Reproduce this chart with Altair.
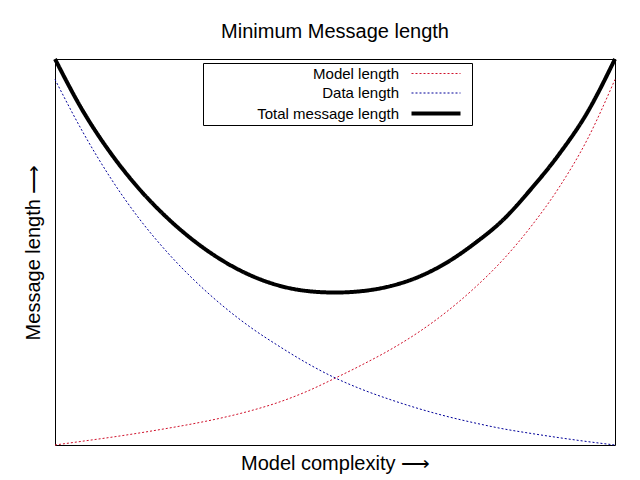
import altair as alt
import pandas as pd

# Values (x: model complexity 0-100, y: message length 0-100)
x_vals = [0, 5, 10, 15, 20, 25, 30, 35, 40, 45, 50, 55, 60, 65, 70, 75, 80, 85, 90, 95, 100]
model_len = [0, 1.0, 2.0, 3.1, 4.3, 5.6, 7.1, 8.9, 11.1, 13.9, 17.3, 20.9, 24.8, 29.3, 34.6,
             40.8, 48.0, 56.6, 66.7, 79.0, 94.7]
data_len = [94.7, 81.0, 69.0, 58.7, 50.0, 42.5, 36.0, 30.4, 25.6, 21.2, 17.4, 14.3, 11.7, 9.4,
            7.4, 5.7, 4.2, 3.0, 1.9, 0.9, 0]
total_len = [100, 86.5, 75.5, 66.4, 58.9, 52.7, 47.7, 43.9, 41.3, 39.9, 39.5, 39.9, 41.2, 43.6,
             47.3, 52.3, 58.3, 66.3, 75.3, 86.0, 100]

series_names = ["Model length", "Data length", "Total message length"]
series_colors = ["#d0102a", "#000099", "#000000"]
series_dash = [[2, 2], [2, 2], [1, 0]]
series_width = [1, 1, 4]

rows = []
for name, vals in zip(series_names, [model_len, data_len, total_len]):
    for xv, yv in zip(x_vals, vals):
        rows.append({"complexity": xv, "length": yv, "series": name})
df = pd.DataFrame(rows)

FONT = "Liberation Sans"

legend = alt.Legend(
    title=None,
    orient="none",
    legendX=148,
    legendY=4,
    symbolType="M-4.9,0H4.9",
    symbolSize=100,
    symbolFillColor="transparent",
    rowPadding=3.5,
    symbolOffset=222.5,
    labelOffset={"expr": "-44.5"},
    labelAlign="right",
    labelFont=FONT,
    labelFontSize=15,
    labelColor="#000000",
    labelLimit=300,
    strokeColor="#000000",
    fillColor="#ffffff",
    padding=3,
)

chart = alt.Chart(df).mark_line(interpolate="monotone").encode(
    x=alt.X("complexity:Q", scale=alt.Scale(domain=[0, 100], nice=False),
            axis=alt.Axis(title="Model complexity ⟶", labels=False, ticks=False, domain=False,
                          grid=False, titleFont=FONT, titleFontSize=20, titleFontWeight="normal",
                          titleColor="#000000", titlePadding=8)),
    y=alt.Y("length:Q", scale=alt.Scale(domain=[0, 100], nice=False),
            axis=alt.Axis(title="Message length ⟶", labels=False, ticks=False, domain=False,
                          grid=False, titleFont=FONT, titleFontSize=20, titleFontWeight="normal",
                          titleColor="#000000", titlePadding=12)),
    color=alt.Color("series:N", scale=alt.Scale(domain=series_names, range=series_colors),
                    legend=legend),
    strokeDash=alt.StrokeDash("series:N", scale=alt.Scale(domain=series_names, range=series_dash),
                              legend=legend),
    strokeWidth=alt.StrokeWidth("series:N",
                                scale=alt.Scale(type="ordinal", domain=series_names, range=series_width),
                                legend=legend),
).properties(
    width=560,
    height=386,
    title=alt.Title("Minimum Message length", font=FONT, fontSize=20, fontWeight="normal",
                    color="#000000", anchor="middle", offset=9),
    autosize=alt.AutoSizeParams(type="none"),
    padding={"left": 47, "top": 51, "right": 10, "bottom": 30},
).configure(
    background="#ffffff",
    view=alt.ViewConfig(stroke="#000000", strokeWidth=1),
)

chart.save("out.html", embed_options={"renderer": "svg", "actions": False})
